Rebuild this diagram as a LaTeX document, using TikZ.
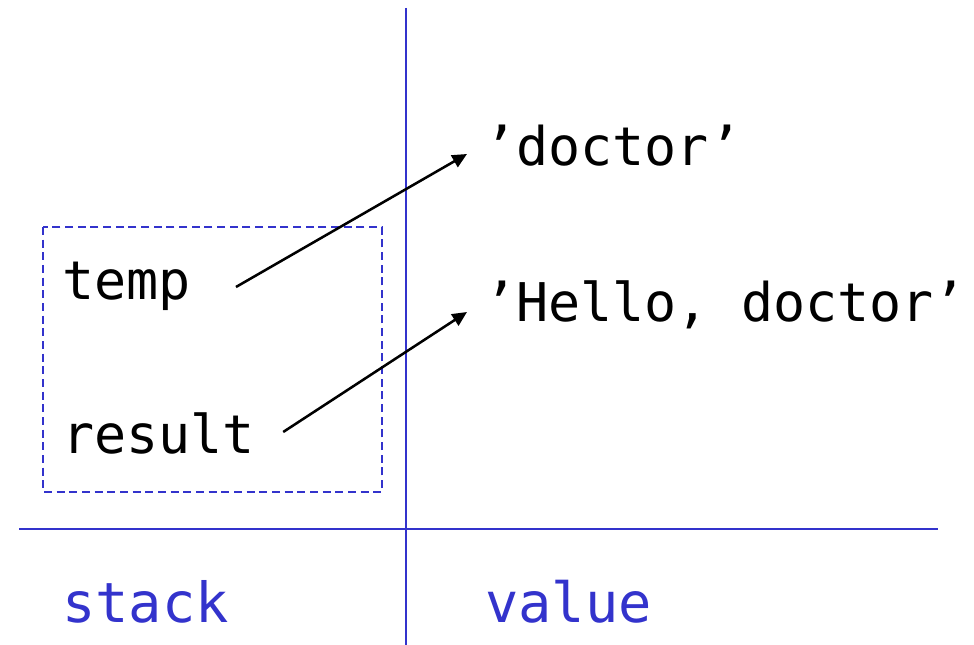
\documentclass[tikz,border=0pt]{standalone}
\usepackage{fontspec}
\newfontfamily\codefont{DejaVu Sans Mono}
\usetikzlibrary{arrows.meta}
\definecolor{regionblue}{HTML}{3333CC}
\begin{document}
\begin{tikzpicture}[x=0.75pt,y=-0.75pt,
  code/.style={anchor=base west,inner sep=0pt,font=\codefont\fontsize{40}{48}\selectfont},
  label/.style={code,text=regionblue,font=\codefont\fontsize{41.5}{48}\selectfont},
  ref/.style={line width=1.9pt,-{Triangle[length=11pt,width=10pt]}},
  divider/.style={draw=regionblue,line width=1.2pt},
  frame/.style={draw=regionblue,line width=1.3pt,dash pattern=on 6pt off 3.5pt}]
\useasboundingbox (0,0) rectangle (974,645);
% region dividers
\draw[divider] (406,8) -- (406,645);
\draw[divider,line width=2.2pt] (19,529) -- (938,529);
% stack frame
\draw[frame] (43,227) rectangle (382,492);
% names and values
\node[code] (temp) at (62,300) {temp};
\node[code] (result) at (62,453) {result};
\node[code] (doctor) at (484,166) {’doctor’};
\node[code] (hello) at (484,321) {’Hello, doctor’};
% bottom labels
\node[label] (stack) at (62,622) {stack};
\node[label] (value) at (485,622) {value};
% references
\draw[ref] ([shift={(45,-13)}]temp.base east) -- ([shift={(-17,-12)}]doctor.base west);
\draw[ref] ([shift={(28,-21)}]result.base east) -- ([shift={(-17,-9)}]hello.base west);
\end{tikzpicture}
\end{document}
